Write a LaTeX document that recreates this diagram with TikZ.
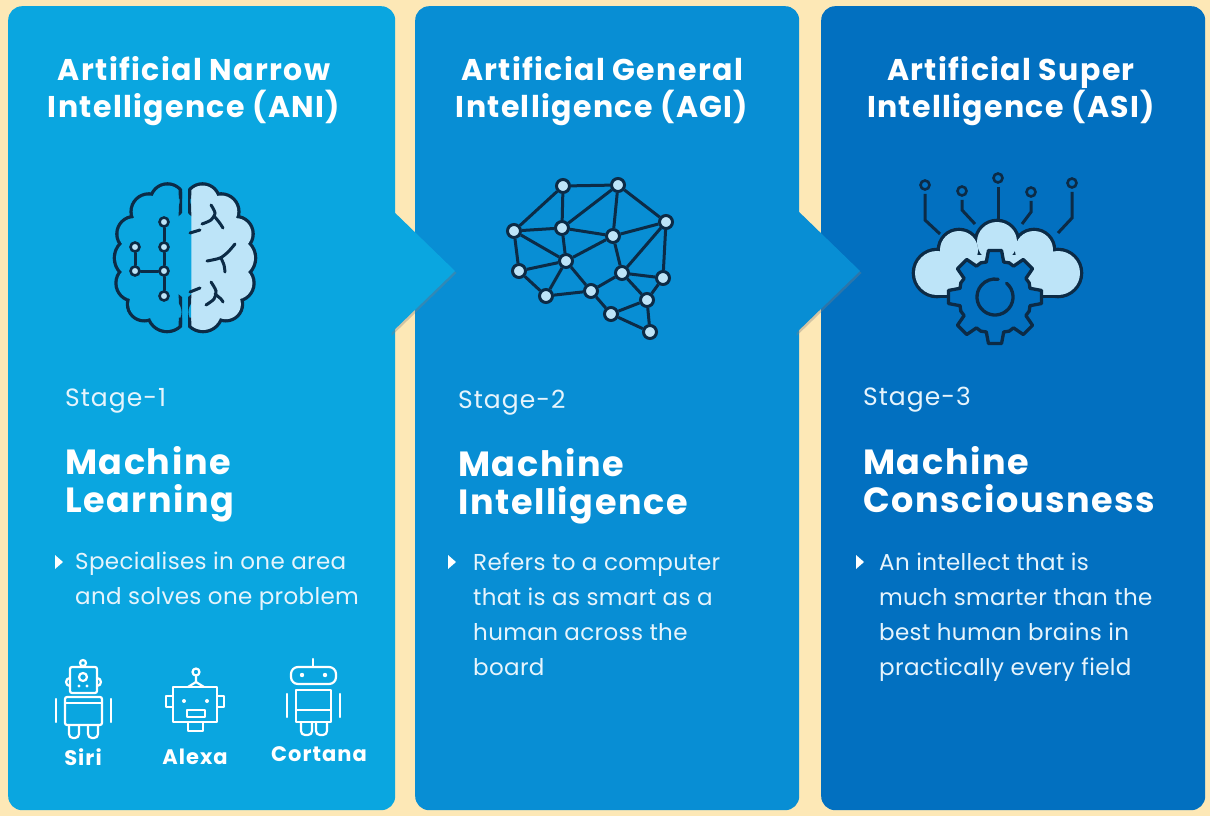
\documentclass[tikz,border=0pt]{standalone}
\usepackage{fontspec}
\setmainfont{Poppins}
\usetikzlibrary{shadows}

\definecolor{cream}{HTML}{FDE8B6}
\definecolor{anicol}{HTML}{0AA6E0}
\definecolor{agicol}{HTML}{088ED4}
\definecolor{asicol}{HTML}{0270C0}
\definecolor{inkcol}{HTML}{0C2B46}
\definecolor{palecol}{HTML}{BDE4F8}
\definecolor{textcol}{HTML}{E6F4FC}

\newcommand{\brainlobes}{167.5/201/15.5, 148.9/211.7/16.2, 134.3/233.9/15.8, 135.3/258/19.3, 134/283.1/16.4, 144.2/304.1/15.1, 167/312.1/17.9}
\newcommand{\braincore}{(190,195) -- (153,196) -- (134,218) -- (122,244) -- (122,272) -- (130,299) -- (150,318) -- (190,322) -- cycle}
\newcommand{\brainhalf}[1]{%
  \begin{scope}
    \clip (100,170) rectangle (182,345);
    \foreach \cx/\cy/\r in \brainlobes
      \draw[inkcol, line width=6.6pt] (\cx,\cy) circle[radius=\r];
    \draw[inkcol, line width=6.6pt, line join=round] \braincore;
    \clip (100,170) rectangle (178.7,345);
    \foreach \cx/\cy/\r in \brainlobes
      \fill[#1] (\cx,\cy) circle[radius=\r];
    \fill[#1] \braincore;
  \end{scope}}

\tikzset{
  panel/.style={rounded corners=14pt, inner sep=0pt, anchor=north west, minimum height=804pt},
  heading/.style={text=white, font=\fontsize{30}{37}\selectfont\bfseries\addfontfeatures{LetterSpace=4.5}, align=center, anchor=north, inner sep=0pt},
  stage/.style={text=textcol, font=\fontsize{25}{28}\selectfont\addfontfeatures{LetterSpace=4}, anchor=north west, inner sep=0pt},
  title/.style={text=white, font=\fontsize{35}{38}\selectfont\bfseries\addfontfeatures{LetterSpace=4.5}, align=left, anchor=north west, inner sep=0pt},
  body/.style={text=textcol, font=\fontsize{23}{35}\selectfont\addfontfeatures{LetterSpace=1.5}, align=left, anchor=north west, inner sep=0pt},
  chevron/.style={drop shadow={shadow xshift=1.5pt, shadow yshift=-2pt, opacity=0.35}},
  icon/.style={draw=inkcol, line width=3.3pt, line join=round, line cap=round},
  crease/.style={draw=inkcol, line width=3pt, line cap=round},
  chip/.style={circle, draw=inkcol, fill=palecol, line width=2.6pt, minimum size=9pt, inner sep=0pt},
  netnode/.style={circle, draw=inkcol, fill=palecol, line width=3pt, minimum size=13pt, inner sep=0pt},
  dot/.style={circle, draw=inkcol, fill=asicol, line width=2.6pt, minimum size=9pt, inner sep=0pt},
  wire/.style={draw=inkcol, line width=3pt, shorten <=3pt},
  robot/.style={draw=white, line width=2.2pt, line join=round, line cap=round},
  botlabel/.style={text=white, font=\fontsize{21}{24}\selectfont\bfseries\addfontfeatures{LetterSpace=5}, inner sep=0pt}
}

\begin{document}
\begin{tikzpicture}[x=1pt, y=-1pt]
  \fill[cream] (0,0) rectangle (1210,816);
  \useasboundingbox (0,0) rectangle (1210,816);

  \node[panel, fill=anicol, minimum width=387pt] (ani) at (8,6) {};
  \node[panel, fill=agicol, minimum width=384pt] (agi) at (415,6) {};
  \node[panel, fill=asicol, minimum width=384pt] (asi) at (821,6) {};

  \fill[anicol, chevron] (390,208) -- (455,271) -- (390,334) -- cycle;
  \fill[agicol, chevron] (795,208) -- (860,271) -- (795,334) -- cycle;

  \node[heading] (anihead) at (194,56) {Artificial Narrow\\Intelligence (ANI)};
  \node[heading] (agihead) at (602,56) {Artificial General\\Intelligence (AGI)};
  \node[heading] (asihead) at (1011,56) {Artificial Super\\Intelligence (ASI)};

  \brainhalf{anicol}
  \begin{scope}[xshift=370pt, xscale=-1]
    \brainhalf{palecol}
  \end{scope}
  \draw[crease] plot[smooth] coordinates {(211,205) (215,213) (211,220) (202,224)};
  \draw[crease] plot[smooth] coordinates {(214,216) (219,222) (223,228)};
  \draw[crease] plot[smooth] coordinates {(235,244) (228,252) (220,258) (207,261)};
  \draw[crease] plot[smooth] coordinates {(221,258) (224,265) (225,272)};
  \draw[crease] plot[smooth] coordinates {(211,282) (216,291) (214,299) (206,305)};
  \draw[crease] plot[smooth] coordinates {(215,294) (221,299) (223,302)};
  \draw[crease] (190,233) -- (200,230);
  \draw[crease] (190,292) -- (200,288);

  \node[chip] (c1) at (164,222) {};
  \node[chip] (c2) at (164,247) {};
  \node[chip] (c3) at (135,247) {};
  \node[chip] (c4) at (135,271) {};
  \node[chip] (c5) at (164,271) {};
  \node[chip] (c6) at (164,296) {};
  \draw[crease] (c1) -- (c2);
  \draw[crease] (c2) -- (c5);
  \draw[crease] (c5) -- (c6);
  \draw[crease] (c3) -- (c4);
  \draw[crease] (c4) -- (c5);

  \foreach \n/\x/\y in {1/563/186, 2/618/185, 3/514/231, 4/562/228, 5/613/236, 6/666/222, 7/566/261, 8/519/271,
                        9/622/273, 10/663/278, 11/546/296, 12/591/291, 13/647/300, 14/611/314, 15/650/332}
    \node[netnode] (n\n) at (\x,\y) {};
  \foreach \a/\b in {1/2, 1/3, 1/4, 2/4, 2/5, 2/6, 3/4, 3/7, 3/8, 4/5, 4/7, 5/6, 5/7, 5/9, 6/9, 6/10, 7/8,
                     7/11, 7/12, 8/11, 11/12, 12/9, 12/14, 9/10, 9/13, 10/13, 13/14, 13/15, 14/15}
    \draw[inkcol, line width=3pt] (n\a) -- (n\b);

  \foreach \n/\x/\y in {1/925/185, 2/962/191, 3/998/178, 4/1031/192, 5/1072/183}
    \node[dot] (d\n) at (\x,\y) {};
  \draw[wire] (d1) -- (925,220) -- (940,234);
  \draw[wire] (d2) -- (962,210) -- (975,224);
  \draw[wire] (d3) -- (998,224);
  \draw[wire] (d4) -- (1031,212) -- (1022,224);
  \draw[wire] (d5) -- (1072,218) -- (1058,233);

  \foreach \cx/\cy/\r in {937/273/22, 959/250/19, 997/242/20, 1034/250/19, 1058/273/22}
    \draw[inkcol, line width=6.6pt] (\cx,\cy) circle[radius=\r];
  \draw[inkcol, line width=6.6pt] (937,255) rectangle (1058,295);
  \foreach \cx/\cy/\r in {937/273/22, 959/250/19, 997/242/20, 1034/250/19, 1058/273/22}
    \fill[palecol] (\cx,\cy) circle[radius=\r];
  \fill[palecol] (937,255) rectangle (1058,295);

  \begin{scope}[shift={(995,297)}]
    \draw[icon, fill=asicol] (-14:36) \foreach \a in {0,45,...,315} {-- (\a-14:36) -- (\a-8:47) -- (\a+8:47) -- (\a+14:36) -- (\a+22.5:37)} -- cycle;
    \draw[icon] (310:18) arc[start angle=310, end angle=640, radius=18];
  \end{scope}

  \node[stage] (anistage) at (65,388) {Stage-1};
  \node[stage] (agistage) at (458,390) {Stage-2};
  \node[stage] (asistage) at (863,387) {Stage-3};

  \node[title] (anititle) at (65,446) {Machine\\Learning};
  \node[title] (agititle) at (458,448) {Machine\\Intelligence};
  \node[title] (asititle) at (863,446) {Machine\\Consciousness};

  \foreach \x in {55,448,856}
    \fill[white] (\x,555) -- (\x+8,562) -- (\x,569) -- cycle;

  \node[body] (anibody) at (75,552) {Specialises in one area\\and solves one problem};
  \node[body] (agibody) at (473,553) {Refers to a computer\\that is as smart as a\\human across the\\board};
  \node[body] (asibody) at (879,553) {An intellect that is\\much smarter than the\\best human brains in\\practically every field};

  \draw[robot] (83,663) circle[radius=3];
  \draw[robot, rounded corners=2pt] (70,667) rectangle (97,693);
  \draw[robot] (83,677) circle[radius=4];
  \fill[white] (79,686) circle[radius=1.6] (87,686) circle[radius=1.6];
  \draw[robot] (70,686) arc[start angle=90, end angle=270, radius=4];
  \draw[robot] (97,678) arc[start angle=-90, end angle=90, radius=4];
  \draw[robot, rounded corners=2pt] (65,697) rectangle (102,725);
  \draw[robot] (65,703) -- (102,703);
  \draw[robot] (56,699) -- (56,722) (111,699) -- (111,722);
  \draw[robot, rounded corners=4pt] (69,725) -- (69,738) -- (79,738) -- (79,725);
  \draw[robot, rounded corners=4pt] (88,725) -- (88,738) -- (98,738) -- (98,725);

  \draw[robot] (196,672) circle[radius=3.5];
  \draw[robot] (196,676) -- (196,682) (188,687) -- (196,682) -- (204,687);
  \draw[robot] (173,687) rectangle (217,722);
  \fill[white] (184,701) circle[radius=2] (207,701) circle[radius=2];
  \draw[robot] (187,710) rectangle (205,717);
  \draw[robot] (166,696) rectangle (173,707) (217,696) rectangle (224,707);
  \draw[robot] (188,722) rectangle (203,731);

  \draw[robot] (313,659) -- (313,667);
  \draw[robot, rounded corners=7pt] (291,667) rectangle (336,684);
  \fill[white] (302,675) circle[radius=2.2] (325,675) circle[radius=2.2];
  \draw[robot] (296,690) rectangle (331,722);
  \draw[robot] (296,710) -- (331,710);
  \draw[robot] (287,694) -- (287,717) (340,694) -- (340,717);
  \draw[robot, rounded corners=4pt] (301,722) -- (301,735) -- (312,735) -- (312,722);
  \draw[robot, rounded corners=4pt] (316,722) -- (316,735) -- (327,735) -- (327,722);

  \node[botlabel] (siri) at (83,757) {Siri};
  \node[botlabel] (alexa) at (195,757) {Alexa};
  \node[botlabel] (cortana) at (319,754) {Cortana};
\end{tikzpicture}
\end{document}
